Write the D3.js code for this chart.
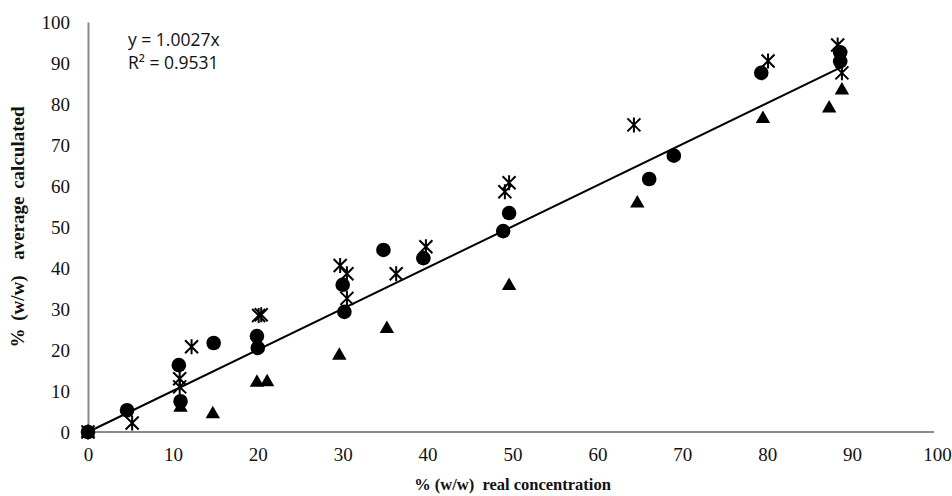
<!DOCTYPE html>
<html>
<head>
<meta charset="utf-8">
<script src="https://cdn.jsdelivr.net/npm/d3@7"></script>
<style>
  html, body { margin: 0; padding: 0; background: #fff; }
  svg text { white-space: pre; }
</style>
</head>
<body>
<svg id="chart" width="952" height="496"></svg>
<script>
// Measured vs real concentration, % (w/w)
const circleX   = [0, 4.6, 10.7, 10.9, 14.8, 19.9, 20.0, 30.0, 30.2, 34.8, 39.5, 48.9, 49.6, 66.1, 69.0, 79.3, 88.6, 88.6];
const circleY   = [0, 5.3, 16.3, 7.5, 21.7, 23.4, 20.5, 35.9, 29.3, 44.4, 42.4, 49.0, 53.4, 61.7, 67.4, 87.6, 92.6, 90.4];

const triangleX = [0, 10.9, 14.7, 19.9, 21.1, 29.6, 35.2, 49.6, 64.7, 79.5, 87.3, 88.8];
const triangleY = [0, 6.2, 4.6, 12.3, 12.4, 18.9, 25.4, 35.9, 56.0, 76.6, 79.2, 83.6];

const starX     = [0, 5.2, 10.8, 10.8, 12.2, 20.1, 20.4, 29.7, 30.5, 30.5, 36.3, 39.8, 49.1, 49.6, 64.3, 80.1, 88.3, 88.8];
const starY     = [0, 2.2, 13.0, 11.0, 20.8, 28.4, 28.6, 40.6, 38.6, 32.6, 38.6, 45.2, 58.6, 60.8, 74.9, 90.5, 94.4, 87.6];

const xTicks = [0, 10, 20, 30, 40, 50, 60, 70, 80, 90, 100];
const yTicks = [0, 10, 20, 30, 40, 50, 60, 70, 80, 90, 100];

const slope = 1.0027;
const fitRange = [0, 88.8];
const equationLines = ["y = 1.0027x", "R\u00b2 = 0.9531"];
const xTitle = "% (w/w)  real concentration";
const yTitle = "% (w/w)  average calculated";

const svg = d3.select("#chart");
const margin = { left: 88, right: 15, top: 22, bottom: 64 };
const W = 952, H = 496;

const x = d3.scaleLinear().domain([0, 100]).range([margin.left, W - margin.right]);
const y = d3.scaleLinear().domain([0, 100]).range([H - margin.bottom, margin.top]);

const serif = "'Liberation Serif', 'Times New Roman', serif";
const axisColor = "#8a8a8a";

// axes: plain grey lines, no tick marks
const xAxis = svg.append("g")
  .attr("transform", `translate(0,${y(0)})`)
  .call(d3.axisBottom(x).tickValues(xTicks).tickSize(0).tickPadding(16).tickFormat(d3.format("d")));
xAxis.select(".domain").attr("stroke", axisColor).attr("stroke-width", 2).attr("d", `M${x(0)},0H${x(100) - 3}`);
xAxis.selectAll("text").attr("font-family", serif).attr("font-size", 19).attr("fill", "#111");

const yAxis = svg.append("g")
  .attr("transform", `translate(${x(0)},0)`)
  .call(d3.axisLeft(y).tickValues(yTicks).tickSize(0).tickPadding(18).tickFormat(d3.format("d")));
yAxis.select(".domain").attr("stroke", axisColor).attr("stroke-width", 2);
yAxis.selectAll("text").attr("font-family", serif).attr("font-size", 19).attr("fill", "#111");

// linear fit through the origin
const fit = fitRange.map(v => [v, slope * v]);
svg.append("path")
  .datum(fit)
  .attr("d", d3.line().x(d => x(d[0])).y(d => y(d[1])))
  .attr("stroke", "#000")
  .attr("stroke-width", 2)
  .attr("fill", "none");

const zip = (a, b) => a.map((v, i) => [v, b[i]]);

// circle series
svg.append("g").selectAll("circle")
  .data(zip(circleX, circleY))
  .join("circle")
  .attr("cx", d => x(d[0]))
  .attr("cy", d => y(d[1]))
  .attr("r", 7.3)
  .attr("fill", "#000");

// triangle series
const tri = d3.symbol().type(d3.symbolTriangle).size(90);
svg.append("g").selectAll("path")
  .data(zip(triangleX, triangleY))
  .join("path")
  .attr("transform", d => `translate(${x(d[0])},${y(d[1]) + 1})`)
  .attr("d", tri)
  .attr("fill", "#000");

// star series: an x with a vertical stroke through its centre
const s = 6.5;
const starPath = `M${-s},${-s}L${s},${s}M${-s},${s}L${s},${-s}M0,${-s - 1}L0,${s + 1}`;
svg.append("g").selectAll("path")
  .data(zip(starX, starY))
  .join("path")
  .attr("transform", d => `translate(${x(d[0])},${y(d[1])})`)
  .attr("d", starPath)
  .attr("stroke", "#000")
  .attr("stroke-width", 2)
  .attr("fill", "none");

// fit equation
svg.append("g").selectAll("text")
  .data(equationLines)
  .join("text")
  .attr("x", 128)
  .attr("y", (d, i) => 46 + i * 23)
  .attr("font-family", "'Open Sans', 'Liberation Sans', sans-serif")
  .attr("font-size", 17.5)
  .attr("fill", "#111")
  .text(d => d);

// axis titles
svg.append("text")
  .attr("x", (x(0) + x(100)) / 2)
  .attr("y", 490)
  .attr("text-anchor", "middle")
  .attr("font-family", serif)
  .attr("font-weight", "bold")
  .attr("font-size", 16.5)
  .attr("fill", "#111")
  .text(xTitle);

svg.append("text")
  .attr("transform", `translate(24,${(y(0) + y(100)) / 2}) rotate(-90)`)
  .attr("text-anchor", "middle")
  .attr("font-family", serif)
  .attr("font-weight", "bold")
  .attr("font-size", 19)
  .attr("word-spacing", 3)
  .attr("fill", "#111")
  .text(yTitle);
</script>
</body>
</html>
